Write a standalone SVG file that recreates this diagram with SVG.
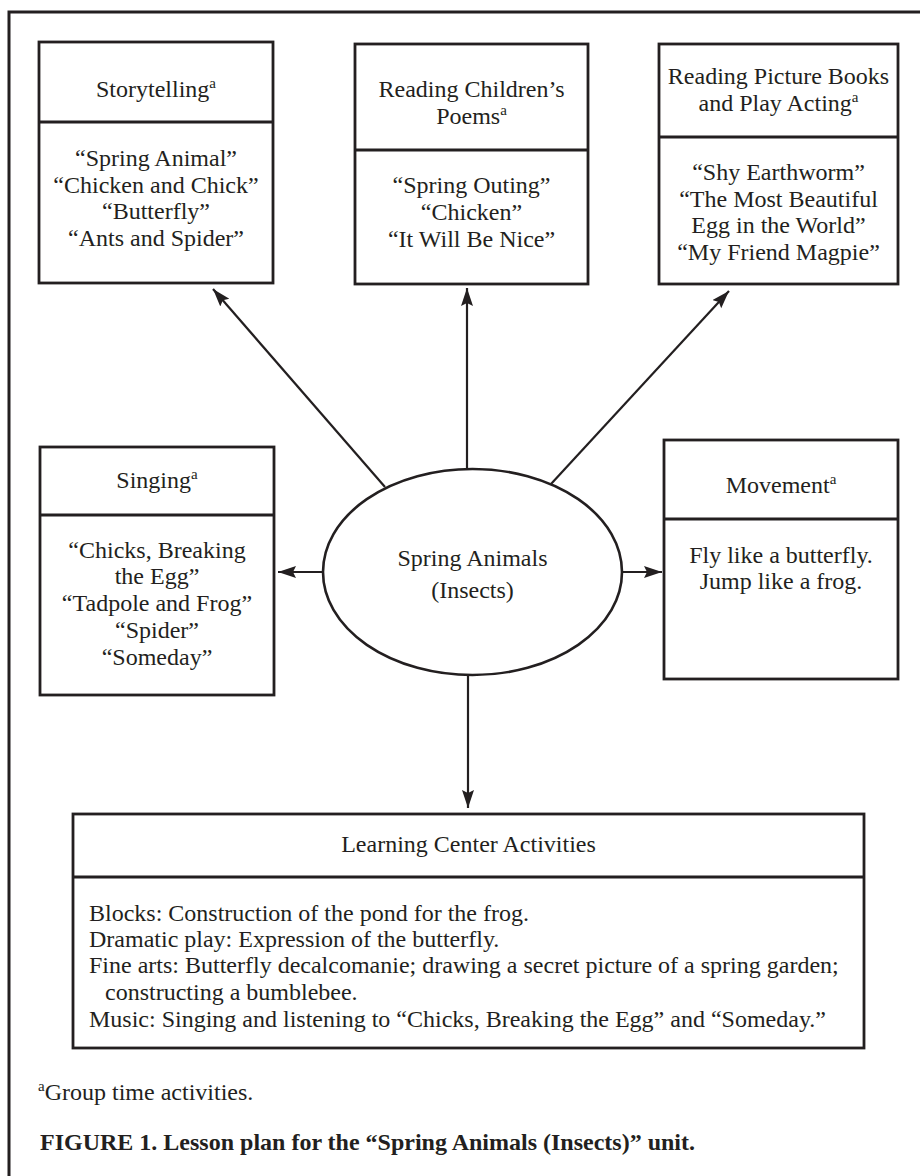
<svg xmlns="http://www.w3.org/2000/svg" width="920" height="1176" viewBox="0 0 920 1176">
<style>
  .box{fill:#fff;stroke:#231f20;stroke-width:2.8}
  .div{stroke:#231f20;stroke-width:2.8}
  .t{font-family:"Liberation Serif","Times New Roman",serif;font-size:24px;fill:#231f20}
  .c{text-anchor:middle}
  .b{font-weight:bold}
  .sup{font-size:15px}
  .con{stroke:#231f20;stroke-width:2.2;fill:none;marker-end:url(#arr)}
</style>
<defs>
  <marker id="arr" markerUnits="userSpaceOnUse" markerWidth="20" markerHeight="14" refX="18" refY="6" orient="auto">
    <path d="M0,0 L18,6 L0,12 L3,6 Z" fill="#231f20"/>
  </marker>
</defs>
<rect width="920" height="1176" fill="#fff"/>
<path d="M9,1176 V12 H920" fill="none" stroke="#231f20" stroke-width="3"/>

<g id="connectors">
  <line class="con" x1="385" y1="487" x2="213" y2="289"/>
  <line class="con" x1="467" y1="469" x2="467" y2="288"/>
  <line class="con" x1="551" y1="484" x2="729" y2="291"/>
  <line class="con" x1="323" y1="572" x2="278" y2="572"/>
  <line class="con" x1="622" y1="572" x2="662" y2="572"/>
  <line class="con" x1="468" y1="675" x2="468" y2="808"/>
</g>

<g id="center">
  <ellipse cx="472.5" cy="572" rx="149.5" ry="103" fill="#fff" stroke="#231f20" stroke-width="2.6"/>
  <text class="t c" x="472.5" y="566">Spring Animals</text>
  <text class="t c" x="472.5" y="598">(Insects)</text>
</g>

<g id="storytelling">
  <rect class="box" x="39" y="42" width="234" height="241"/>
  <line class="div" x1="39" y1="122" x2="273" y2="122"/>
  <text class="t c" x="156" y="97">Storytelling<tspan class="sup" dy="-9">a</tspan></text>
  <text class="t c" x="156" y="166">“Spring Animal”</text>
  <text class="t c" x="156" y="193">“Chicken and Chick”</text>
  <text class="t c" x="156" y="219">“Butterfly”</text>
  <text class="t c" x="156" y="246">“Ants and Spider”</text>
</g>

<g id="poems">
  <rect class="box" x="355" y="44" width="233" height="240"/>
  <line class="div" x1="355" y1="150" x2="588" y2="150"/>
  <text class="t c" x="471.5" y="97">Reading Children’s</text>
  <text class="t c" x="471.5" y="124">Poems<tspan class="sup" dy="-9">a</tspan></text>
  <text class="t c" x="471.5" y="193">“Spring Outing”</text>
  <text class="t c" x="471.5" y="220">“Chicken”</text>
  <text class="t c" x="471.5" y="247">“It Will Be Nice”</text>
</g>

<g id="picturebooks">
  <rect class="box" x="659" y="44" width="239" height="240"/>
  <line class="div" x1="659" y1="137" x2="898" y2="137"/>
  <text class="t c" x="778.5" y="84">Reading Picture Books</text>
  <text class="t c" x="778.5" y="111">and Play Acting<tspan class="sup" dy="-9">a</tspan></text>
  <text class="t c" x="778.5" y="180">“Shy Earthworm”</text>
  <text class="t c" x="778.5" y="207">“The Most Beautiful</text>
  <text class="t c" x="778.5" y="233">Egg in the World”</text>
  <text class="t c" x="778.5" y="260">“My Friend Magpie”</text>
</g>

<g id="singing">
  <rect class="box" x="40" y="447" width="234" height="248"/>
  <line class="div" x1="40" y1="515" x2="274" y2="515"/>
  <text class="t c" x="157" y="488">Singing<tspan class="sup" dy="-9">a</tspan></text>
  <text class="t c" x="157" y="558">“Chicks, Breaking</text>
  <text class="t c" x="157" y="584">the Egg”</text>
  <text class="t c" x="157" y="611">“Tadpole and Frog”</text>
  <text class="t c" x="157" y="638">“Spider”</text>
  <text class="t c" x="157" y="665">“Someday”</text>
</g>

<g id="movement">
  <rect class="box" x="664" y="440" width="234" height="239"/>
  <line class="div" x1="664" y1="519" x2="898" y2="519"/>
  <text class="t c" x="781" y="493">Movement<tspan class="sup" dy="-9">a</tspan></text>
  <text class="t c" x="781" y="563">Fly like a butterfly.</text>
  <text class="t c" x="781" y="589">Jump like a frog.</text>
</g>

<g id="learning">
  <rect class="box" x="73" y="814" width="791" height="234"/>
  <line class="div" x1="73" y1="877" x2="864" y2="877"/>
  <text class="t c" x="468.5" y="852">Learning Center Activities</text>
  <text class="t" x="89" y="921">Blocks: Construction of the pond for the frog.</text>
  <text class="t" x="89" y="947">Dramatic play: Expression of the butterfly.</text>
  <text class="t" x="89" y="973">Fine arts: Butterfly decalcomanie; drawing a secret picture of a spring garden;</text>
  <text class="t" x="105" y="1000">constructing a bumblebee.</text>
  <text class="t" x="89" y="1027">Music: Singing and listening to “Chicks, Breaking the Egg” and “Someday.”</text>
</g>

<g id="footer">
  <text class="t" x="38" y="1100"><tspan class="sup" dy="-9">a</tspan><tspan dy="9">Group time activities.</tspan></text>
  <text class="t b" x="40" y="1150">FIGURE 1. Lesson plan for the “Spring Animals (Insects)” unit.</text>
</g>
</svg>
